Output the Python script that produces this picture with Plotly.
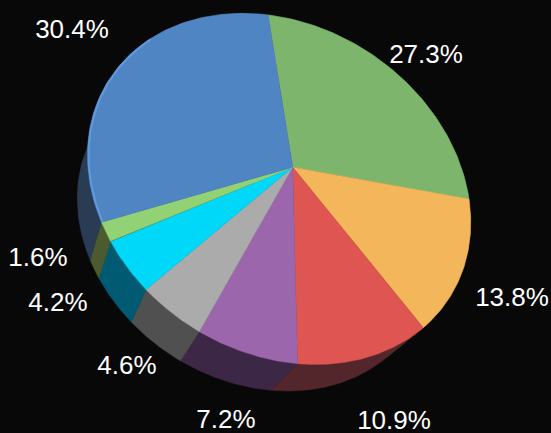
import numpy as np
import plotly.graph_objects as go

# Slice shares in percent, clockwise from the top seam of the disc
shares = [27.3, 13.8, 10.9, 7.2, 4.6, 4.2, 1.6, 30.4]
top_colors = ["#7DB56C", "#F4B65A", "#DE5552", "#9B66AC", "#ABABAB", "#00D8FA", "#93D274", "#4F85C2"]
wall_colors = ["#3A5030", "#6A4F28", "#52262A", "#3D2747", "#505050", "#005A72", "#4C5A30", "#2A3C54"]
label_x = [426, 512, 394, 226, 127, 58, 38, 72]
label_y = [56, 299, 422, 421, 367, 304, 259, 31]

BACKGROUND = "#080808"

# Perspective projection from the unit disc to the tilted pie in the page
TILT = np.array([
    [213.17485, 9.92442, 292.71290],
    [24.71118, -150.25800, 167.13936],
    [0.09042, 0.12880, 1.0],
])
# The underside of the disc recedes towards this vanishing point
VANISH = np.array([-43.0, 705.0])
DEPTH_SCALE = 0.922


def project(radius, angle):
    p = TILT @ np.vstack([radius * np.sin(angle), radius * np.cos(angle), np.ones_like(angle)])
    return p[0] / p[2], p[1] / p[2]


def lower(x, y):
    return VANISH[0] + DEPTH_SCALE * (x - VANISH[0]), VANISH[1] + DEPTH_SCALE * (y - VANISH[1])


def polygon(x, y, color):
    return go.Scatter(x=x, y=y, mode="lines", fill="toself", fillcolor=color,
                      line=dict(color=color, width=0.5), hoverinfo="skip")


edges = np.cumsum([0.0] + shares) / sum(shares) * 2 * np.pi
fig = go.Figure()

# Side wall first, so the top surface covers whatever faces away
for a0, a1, color in zip(edges[:-1], edges[1:], wall_colors):
    t = np.linspace(a0, a1, 80)
    x, y = project(1.0, t)
    lx, ly = lower(x, y)
    fig.add_trace(polygon(np.r_[x, lx[::-1], x[0]], np.r_[y, ly[::-1], y[0]], color))

# Top surface
for a0, a1, color in zip(edges[:-1], edges[1:], top_colors):
    t = np.linspace(a0, a1, 80)
    x, y = project(1.0, t)
    cx, cy = project(0.0, np.array([0.0]))
    fig.add_trace(polygon(np.r_[cx, x, cx], np.r_[cy, y, cy], color))

# Highlight along the rim of the largest slice
t = np.linspace(edges[-2], edges[-1] - 0.75, 60)
x, y = project(0.995, t)
fig.add_trace(go.Scatter(x=x, y=y, mode="lines", line=dict(color="#5F9ADF", width=2), hoverinfo="skip"))

fig.add_trace(go.Scatter(
    x=label_x, y=label_y,
    text=[f"{s:.1f}%" for s in shares], mode="text", textposition="middle center",
    textfont=dict(family="Liberation Sans", size=26, color="#FFFFFF"), hoverinfo="skip",
))

fig.update_layout(
    width=551, height=433, margin=dict(l=0, r=0, t=0, b=0), showlegend=False,
    paper_bgcolor=BACKGROUND, plot_bgcolor=BACKGROUND,
    xaxis=dict(range=[0, 551], visible=False, fixedrange=True),
    yaxis=dict(range=[433, 0], visible=False, fixedrange=True),
)
fig.write_html("out.html", config={"displayModeBar": False})
